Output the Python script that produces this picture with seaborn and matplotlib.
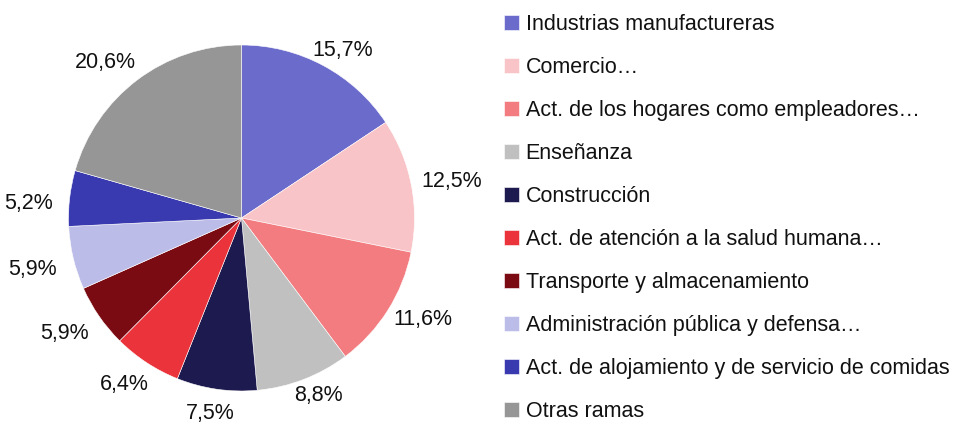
import numpy as np
import matplotlib
matplotlib.use("Agg")
import matplotlib.pyplot as plt
import seaborn as sns

categories = [
    "Industrias manufactureras",
    "Comercio…",
    "Act. de los hogares como empleadores…",
    "Enseñanza",
    "Construcción",
    "Act. de atención a la salud humana…",
    "Transporte y almacenamiento",
    "Administración pública y defensa…",
    "Act. de alojamiento y de servicio de comidas",
    "Otras ramas",
]
values = [15.7, 12.5, 11.6, 8.8, 7.5, 6.4, 5.9, 5.9, 5.2, 20.6]
value_labels = ["15,7%", "12,5%", "11,6%", "8,8%", "7,5%", "6,4%", "5,9%", "5,9%", "5,2%", "20,6%"]
colors = ["#6B6BCC", "#F9C4C7", "#F37C80", "#C0C0C0", "#1C1A4E",
          "#EA333B", "#7B0B12", "#BCBCE8", "#3939B0", "#969696"]

sns.set_theme(style="white")
plt.rcParams["font.family"] = ["Liberation Sans", "DejaVu Sans"]
palette = sns.color_palette(colors)

W, H = 954, 425
fig = plt.figure(figsize=(W / 100, H / 100), dpi=100)
cx, cy, r = 241.5, 218.0, 173.0
ax = fig.add_axes([(cx - r) / W, (H - cy - r) / H, 2 * r / W, 2 * r / H])

wedges, _ = ax.pie(values, colors=palette, startangle=90, counterclock=False,
                   wedgeprops=dict(edgecolor="white", linewidth=0.4))
ax.set_xlim(-1, 1)
ax.set_ylim(-1, 1)
ax.set_aspect("equal")
ax.axis("off")

R1, a, b = 1.08, 0.16, 0.02
for w, lab in zip(wedges, value_labels):
    ang = np.deg2rad((w.theta1 + w.theta2) / 2)
    c, s = np.cos(ang), np.sin(ang)
    x = (R1 + a) * c
    y = (R1 + b) * s
    if c < 0 and s < 0.5:
        y -= 0.04
    elif c < 0:
        x -= 0.04
        y += 0.02
    ax.text(x, y, lab, ha="center", va="center",
            fontsize=15.5, color="#111111", clip_on=False)

leg = fig.legend(wedges, categories, loc="upper left",
                 bbox_to_anchor=(504 / W, 1 - 14 / H),
                 frameon=False, fontsize=15.5, borderpad=0, borderaxespad=0,
                 handlelength=0.7, handleheight=0.7, handletextpad=0.3,
                 labelspacing=1.02)
for t in leg.get_texts():
    t.set_color("#111111")

fig.savefig("out.png", dpi=100)
